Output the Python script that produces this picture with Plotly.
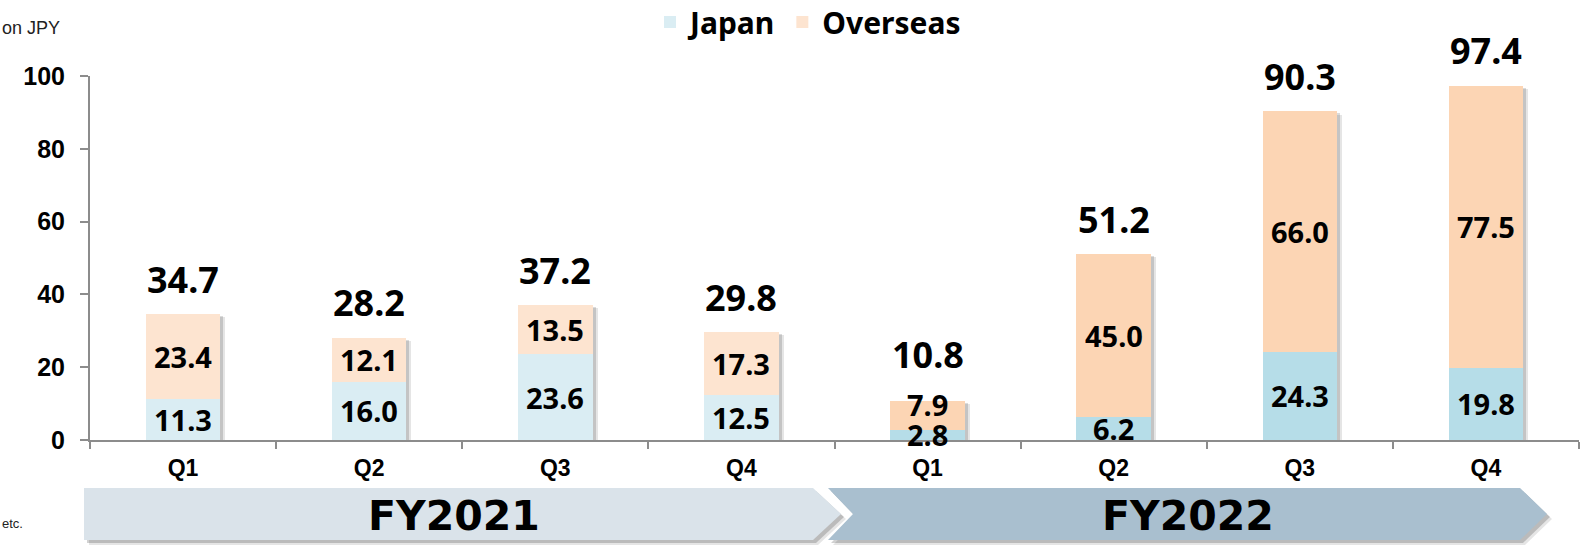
import plotly.graph_objects as go

quarters = ["Q1", "Q2", "Q3", "Q4", "Q1", "Q2", "Q3", "Q4"]
japan = [11.3, 16.0, 23.6, 12.5, 2.8, 6.2, 24.3, 19.8]
overseas = [23.4, 12.1, 13.5, 17.3, 7.9, 45.0, 66.0, 77.5]
totals = [34.7, 28.2, 37.2, 29.8, 10.8, 51.2, 90.3, 97.4]
years = ["FY2021", "FY2022"]

japan_colors = ["#daedf3"] * 4 + ["#b6dde8"] * 4
overseas_colors = ["#fde4d0"] * 4 + ["#fcd5b4"] * 4

# plot-area geometry in pixels
L, R, T, B = 90, 1579, 76, 440
W, H = 1585, 549
PW, PH = R - L, B - T
YMAX = 100


def px(x):
    return (x - L) / PW


def py(y):
    return (B - y) / PH


xs = list(range(len(quarters)))
bw = 0.4
shift = 5 / (PW / len(quarters))

fig = go.Figure()

# soft shadows behind the stacks
fig.add_trace(go.Bar(
    x=xs, y=[t - 1.0 for t in totals], base=0, width=bw, offset=-bw / 2 + shift,
    marker=dict(color="rgba(0,0,0,0.10)", line=dict(width=0)),
    showlegend=False, hoverinfo="skip"))
fig.add_trace(go.Bar(
    x=xs, y=[t - 0.6 for t in totals], base=0, width=bw, offset=-bw / 2 + shift * 0.6,
    marker=dict(color="rgba(0,0,0,0.14)", line=dict(width=0)),
    showlegend=False, hoverinfo="skip"))

fig.add_trace(go.Bar(
    name="Japan", x=xs, y=japan, base=0, width=bw, offset=-bw / 2,
    marker=dict(color=japan_colors, line=dict(width=0)), hoverinfo="y+name"))
fig.add_trace(go.Bar(
    name="Overseas", x=xs, y=overseas, base=japan, width=bw, offset=-bw / 2,
    marker=dict(color=overseas_colors, line=dict(width=0)), hoverinfo="y+name"))

SEG_SIZE = 29
seg_font = dict(family="Noto Sans", size=SEG_SIZE, color="black", weight="bold")
text_units = 1.25 * SEG_SIZE / (PH / YMAX)  # label height in data units

annotations = []
raised = []
# segment labels
for x, j, o in zip(xs, japan, overseas):
    annotations.append(dict(x=x, y=j / 2, xref="x", yref="y", text=f"{j:.1f}",
                            showarrow=False, yanchor="middle", font=seg_font,
                            height=SEG_SIZE))
    if o >= text_units:
        annotations.append(dict(x=x, y=j + o / 2, xref="x", yref="y",
                                text=f"{o:.1f}", showarrow=False,
                                yanchor="middle", font=seg_font, height=SEG_SIZE))
        raised.append(False)
    else:
        annotations.append(dict(x=x, y=j + o, xref="x", yref="y",
                                text=f"{o:.1f}", showarrow=False,
                                yanchor="top", yshift=13, font=seg_font,
                                height=SEG_SIZE))
        raised.append(True)

# totals
for x, t, up in zip(xs, totals, raised):
    annotations.append(dict(
        x=x, y=t, xref="x", yref="y", text=f"{t:.1f}", showarrow=False,
        yanchor="bottom", yshift=20 if up else 8,
        font=dict(family="Noto Sans", size=36, color="black", weight="bold")))

# unit / footnote text
annotations.append(dict(x=0, y=py(28), xref="paper", yref="paper",
                        xshift=-L, text="on JPY", showarrow=False,
                        xanchor="left", yanchor="middle",
                        font=dict(family="Liberation Sans", size=18, color="#222")))
annotations.append(dict(x=0, y=py(523), xref="paper", yref="paper",
                        xshift=-L, text="etc.", showarrow=False,
                        xanchor="left", yanchor="middle",
                        font=dict(family="Liberation Sans", size=13, color="#222")))

shapes = []


def poly(points, color, dx=0, dy=0):
    d = "M " + " L ".join(f"{px(x + dx):.5f},{py(y + dy):.5f}" for x, y in points) + " Z"
    return dict(type="path", path=d, xref="paper", yref="paper",
                fillcolor=color, line=dict(width=0), layer="below")


arrow1 = [(84, 488), (813, 488), (841, 514), (813, 540), (84, 540)]
arrow2 = [(828, 488), (1520, 488), (1547, 514), (1520, 540), (828, 540), (853, 514)]
for pts in (arrow1, arrow2):
    shapes.append(poly(pts, "rgba(0,0,0,0.10)", 5, 5))
    shapes.append(poly(pts, "rgba(0,0,0,0.18)", 3, 3))
shapes.append(poly(arrow1, "#dae3ea"))
shapes.append(poly(arrow2, "#a9bfcf"))

for label, cx in zip(years, (454, 1188)):
    annotations.append(dict(x=px(cx), y=py(516), xref="paper", yref="paper",
                            text=label, showarrow=False,
                            xanchor="center", yanchor="middle",
                            font=dict(family="DejaVu Sans", size=41, color="black",
                                      weight="bold")))

fig.update_layout(
    width=W, height=H,
    margin=dict(l=L, r=W - R, t=T, b=H - B, pad=0, autoexpand=False),
    paper_bgcolor="white", plot_bgcolor="white",
    barmode="overlay", bargap=0,
    showlegend=True,
    legend=dict(orientation="h", x=808 / W, xref="container", xanchor="center",
                y=1 - 22 / H, yref="container", yanchor="middle",
                font=dict(family="Noto Sans", size=30, color="black", weight="bold"),
                itemsizing="constant", traceorder="normal", bgcolor="rgba(0,0,0,0)",
                itemclick=False, tracegroupgap=0),
    xaxis=dict(range=[-0.5, 7.5], tickmode="array", tickvals=xs, ticktext=quarters,
               ticks="", showline=True, linecolor="#8c8c8c", linewidth=2,
               showgrid=False, zeroline=False, layer="below traces",
               ticklabelstandoff=6,
               tickfont=dict(family="Liberation Sans", size=23, color="black",
                             weight="bold"),
               minor=dict(tickmode="array",
                          tickvals=[x - 0.5 for x in xs] + [xs[-1] + 0.5],
                          ticks="outside", ticklen=7, tickcolor="#8c8c8c",
                          tickwidth=2, showgrid=False)),
    yaxis=dict(range=[0, YMAX], dtick=20, ticks="outside", ticklen=8,
               tickcolor="#8c8c8c", tickwidth=2, showline=True,
               linecolor="#8c8c8c", linewidth=2, showgrid=False, zeroline=False,
               ticklabelstandoff=10,
               tickfont=dict(family="Liberation Sans", size=25, color="black",
                             weight="bold")),
    annotations=annotations,
    shapes=shapes,
)

fig.write_html("out.html")
